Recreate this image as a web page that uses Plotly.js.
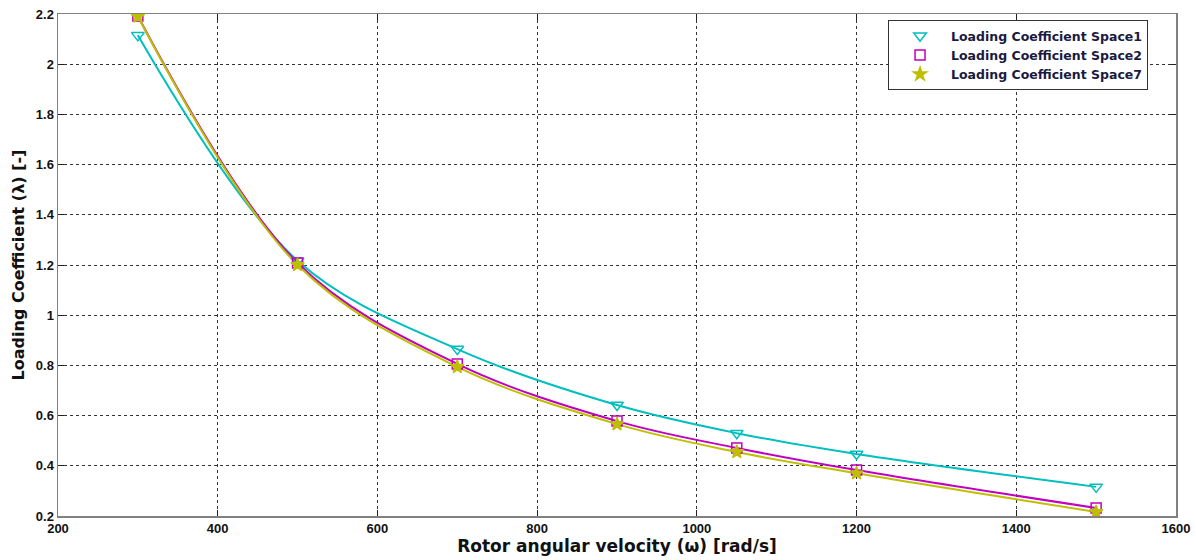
<!DOCTYPE html>
<html>
<head>
<meta charset="utf-8">
<script src="https://cdn.plot.ly/plotly-3.0.1.min.js"></script>
<style>html,body{margin:0;padding:0;background:#fff;}#chart{width:1196px;height:560px;}</style>
</head>
<body>
<div id="chart"></div>
<script>
const omega = [300, 500, 700, 900, 1050, 1200, 1500];
const space1 = [2.115, 1.217, 0.865, 0.642, 0.530, 0.447, 0.316];
const space2 = [2.192, 1.208, 0.806, 0.578, 0.471, 0.383, 0.232];
const space7 = [2.190, 1.200, 0.794, 0.566, 0.455, 0.370, 0.216];
const names = ['Loading Coefficient Space1', 'Loading Coefficient Space2', 'Loading Coefficient Space7'];

const colors = ['#00BFBF', '#BF00BF', '#BFBF00'];
const symbols = ['triangle-down-open', 'square-open', 'star'];
const sizes = [11, 10, 10];
const series = [space1, space2, space7];

const traces = [];
series.forEach((s, i) => {
  traces.push({
    x: omega, y: s, mode: 'lines', type: 'scatter',
    line: {color: colors[i], width: 2, shape: 'spline', smoothing: 1.0},
    showlegend: false, hoverinfo: 'skip'
  });
});
series.forEach((s, i) => {
  traces.push({
    x: omega, y: s, mode: 'markers', type: 'scatter', name: names[i],
    marker: {color: colors[i], symbol: symbols[i], size: sizes[i], line: {color: colors[i], width: 1.5}}
  });
});

const axisCommon = {
  showgrid: true, gridcolor: '#333', griddash: '3px,3px', gridwidth: 1,
  showline: true, linecolor: '#808080', linewidth: 1.5, mirror: 'ticks',
  ticks: 'inside', ticklen: 6, tickcolor: '#222', zeroline: false,
  tickfont: {family: 'Liberation Sans, Arial, sans-serif', size: 13, color: '#111', weight: 'bold'}
};

const layout = {
  width: 1196, height: 560,
  margin: {l: 58, r: 20, t: 14, b: 44},
  paper_bgcolor: '#fff', plot_bgcolor: '#fff',
  xaxis: Object.assign({}, axisCommon, {
    range: [200, 1600], dtick: 200, tick0: 200,
    title: {text: 'Rotor angular velocity (ω) [rad/s]', standoff: 5,
      font: {family: 'DejaVu Sans, Verdana, sans-serif', size: 17, color: '#111', weight: 'bold'}}
  }),
  yaxis: Object.assign({}, axisCommon, {
    range: [0.2, 2.2], dtick: 0.2, tick0: 0.2,
    title: {text: 'Loading Coefficient (λ) [-]', standoff: 7,
      font: {family: 'DejaVu Sans, Verdana, sans-serif', size: 16, color: '#111', weight: 'bold'}}
  }),
  legend: {
    x: 0.975, xanchor: 'right', y: 0.988, yanchor: 'top',
    bgcolor: '#fff', bordercolor: '#333', borderwidth: 1,
    font: {family: 'DejaVu Sans, Verdana, sans-serif', size: 12.5, color: '#1a1a40', weight: 'bold'},
    tracegroupgap: 0, itemwidth: 52
  },
  showlegend: true
};

Plotly.newPlot('chart', traces, layout, {displayModeBar: false, staticPlot: true});
</script>
</body>
</html>
